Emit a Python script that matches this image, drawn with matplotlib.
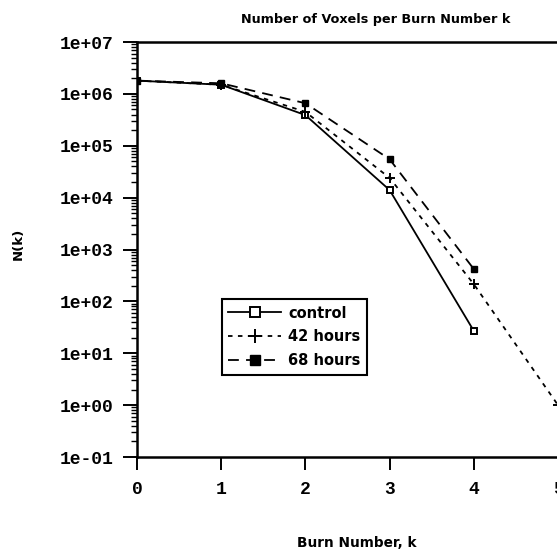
import matplotlib
matplotlib.use("Agg")
import matplotlib.pyplot as plt
from matplotlib.ticker import LogLocator, FixedLocator, NullFormatter

burn_k = [0, 1, 2, 3, 4]
burn_k_42 = [0, 1, 2, 3, 4, 5]
control = [1.8e6, 1.5e6, 3.9e5, 1.4e4, 27]
hours42 = [1.8e6, 1.5e6, 4.5e5, 2.4e4, 215, 1.0]
hours68 = [1.8e6, 1.6e6, 6.6e5, 5.5e4, 420]
series_names = ["control", "42 hours", "68 hours"]
x_ticks = [0, 1, 2, 3, 4, 5]
y_ticks = [1e-1, 1e0, 1e1, 1e2, 1e3, 1e4, 1e5, 1e6, 1e7]
y_tick_labels = ["1e-01", "1e+00", "1e+01", "1e+02", "1e+03", "1e+04", "1e+05", "1e+06", "1e+07"]

W, H = 557, 553
fig = plt.figure(figsize=(W / 100, H / 100), dpi=100)
ax = fig.add_axes([137 / W, 1 - 457 / H, (558 - 137) / W, (457 - 42) / H])

bold_font = ["DejaVu Sans"]
mono_font = ["Liberation Mono", "DejaVu Sans Mono"]

ax.plot(burn_k, control, color="black", lw=1.3, ls="-", marker="s",
        markersize=5, markerfacecolor="white", markeredgecolor="black",
        markeredgewidth=1.4, label=series_names[0])
ax.plot(burn_k_42, hours42, color="black", lw=1.3, ls=(0, (2.5, 3)), marker="+",
        markersize=6.5, markeredgewidth=1.4, label=series_names[1])
ax.plot(burn_k, hours68, color="black", lw=1.3, ls=(0, (6, 4)), marker="s",
        markersize=4.5, markerfacecolor="black", markeredgecolor="black",
        label=series_names[2])

ax.set_yscale("log")
ax.set_ylim(1e-1, 1e7)
ax.set_xlim(0, 5)
ax.yaxis.set_major_locator(FixedLocator(y_ticks))
ax.set_yticklabels(y_tick_labels)
ax.yaxis.set_minor_locator(LogLocator(base=10, subs=range(2, 10), numticks=20))
ax.yaxis.set_minor_formatter(NullFormatter())
ax.set_xticks(x_ticks)
ax.set_xticklabels([str(v) for v in x_ticks])

for s in ["left", "bottom", "top"]:
    ax.spines[s].set_linewidth(1.8)
ax.spines["right"].set_visible(False)

ax.tick_params(axis="y", which="major", direction="out", length=10, width=1.4,
               labelsize=13, pad=7)
ax.tick_params(axis="x", which="major", direction="out", length=9.4, width=1.4,
               labelsize=13, pad=8)
ax.tick_params(axis="y", which="minor", direction="out", length=4.3, width=1.0)
for lbl in ax.get_xticklabels() + ax.get_yticklabels():
    lbl.set_fontfamily(mono_font)
    lbl.set_fontweight("bold")

fig.text(376 / W, 1 - 20 / H, "Number of Voxels per Burn Number k", ha="center",
         va="center", fontsize=9.2, fontweight="bold", family=bold_font)
fig.text(357 / W, 1 - 543 / H, "Burn Number, k", ha="center", va="center",
         fontsize=9.8, fontweight="bold", family=bold_font)
fig.text(18 / W, 1 - 244 / H, "N(k)", ha="center", va="center", rotation=90,
         fontsize=9.5, fontweight="bold", family=bold_font)

leg = ax.legend(loc="upper left",
                bbox_to_anchor=((221.7 - 137) / 421, (457 - 299) / 415),
                frameon=True, fancybox=False, edgecolor="black", framealpha=1,
                handlelength=3.6, handletextpad=0.5, borderpad=0.45,
                labelspacing=0.6, borderaxespad=0, markerscale=1.5,
                prop={"family": bold_font, "weight": "bold", "size": 10.5})
leg.get_frame().set_linewidth(1.5)

fig.savefig("out.png", dpi=100)
